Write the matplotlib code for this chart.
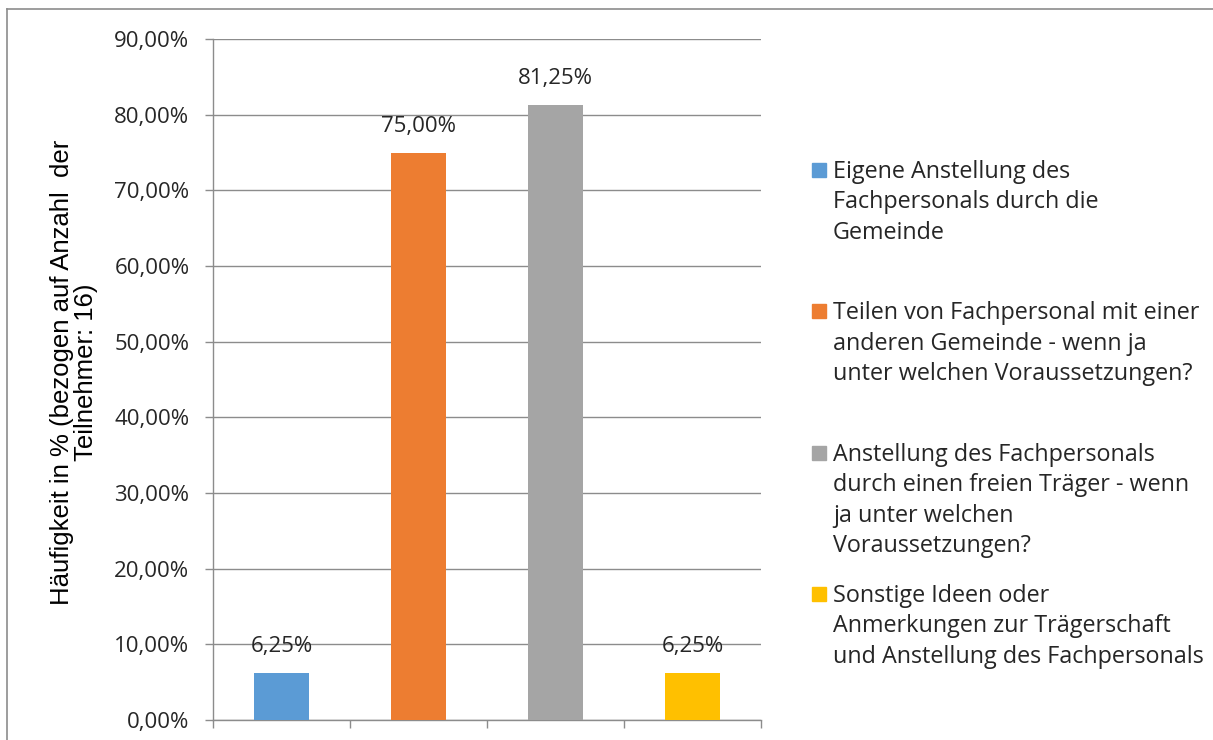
import matplotlib.pyplot as plt
from matplotlib.patches import Rectangle
from matplotlib.lines import Line2D

# data
categories = [
    "Eigene Anstellung des\nFachpersonals durch die\nGemeinde",
    "Teilen von Fachpersonal mit einer\nanderen Gemeinde - wenn ja\nunter welchen Voraussetzungen?",
    "Anstellung des Fachpersonals\ndurch einen freien Träger - wenn\nja unter welchen\nVoraussetzungen?",
    "Sonstige Ideen oder\nAnmerkungen zur Trägerschaft\nund Anstellung des Fachpersonals",
]
values = [6.25, 75.00, 81.25, 6.25]
colors = ["#5B9BD5", "#ED7D31", "#A5A5A5", "#FFC000"]
yticks = [0, 10, 20, 30, 40, 50, 60, 70, 80, 90]
ylabel = "Häufigkeit in % (bezogen auf Anzahl  der\nTeilnehmer: 16)"

W, H = 1213, 740
fig = plt.figure(figsize=(W / 100, H / 100), dpi=100)
txt_font = ["Open Sans", "DejaVu Sans"]

# outer chart border (only top/left visible in the reference)
fig.add_artist(Line2D([7 / W, 7 / W], [0, 1 - 9 / H], color="#8c8c8c", lw=1.2))
fig.add_artist(Line2D([7 / W, 1], [1 - 9 / H, 1 - 9 / H], color="#8c8c8c", lw=1.2))

ax = fig.add_axes([213 / W, 20 / H, (761 - 213) / W, (720 - 39) / H])
x = list(range(len(values)))
ax.bar(x, values, width=0.4, color=colors, zorder=3)
ax.set_xlim(-0.5, len(values) - 0.5)
ax.set_ylim(0, 90)

for xi, v in zip(x, values):
    ax.annotate(("%.2f%%" % v).replace(".", ","), (xi, v), xytext=(0, 19),
                textcoords="offset points", ha="center", va="center",
                fontsize=16, family=txt_font, color="#262626")

ax.set_yticks(yticks)
ax.set_yticklabels([("%.2f%%" % t).replace(".", ",") for t in yticks],
                   fontsize=16, family=txt_font, color="#262626")
ax.set_xticks([i - 0.5 for i in range(len(values) + 1)])
ax.set_xticklabels([])
ax.tick_params(axis="y", length=6, width=1, color="#8c8c8c", pad=11)
ax.tick_params(axis="x", length=6, width=1, color="#8c8c8c")
ax.grid(axis="y", color="#8c8c8c", lw=1, zorder=0)
for s in ["top", "right"]:
    ax.spines[s].set_visible(False)
for s in ["left", "bottom"]:
    ax.spines[s].set_color("#8c8c8c")
    ax.spines[s].set_linewidth(1)

fig.text(74 / W, 1 - 372 / H, ylabel, rotation=90, ha="center", va="center",
         fontsize=18.5, family="Liberation Sans", multialignment="center",
         linespacing=1.05)

# legend, drawn by hand to match the evenly spaced slots
slot_top = 160
slot_h = 141.3
for i, (lab, c) in enumerate(zip(categories, colors)):
    y0 = slot_top + i * slot_h
    fig.add_artist(Rectangle((812 / W, 1 - (y0 + 17) / H), 14 / W, 14 / H,
                             color=c, transform=fig.transFigure))
    fig.text(833 / W, 1 - y0 / H, lab, ha="left", va="top", fontsize=16.8,
             family=txt_font, color="#262626", linespacing=1.36)

fig.savefig("out.png", dpi=100, facecolor="white")
